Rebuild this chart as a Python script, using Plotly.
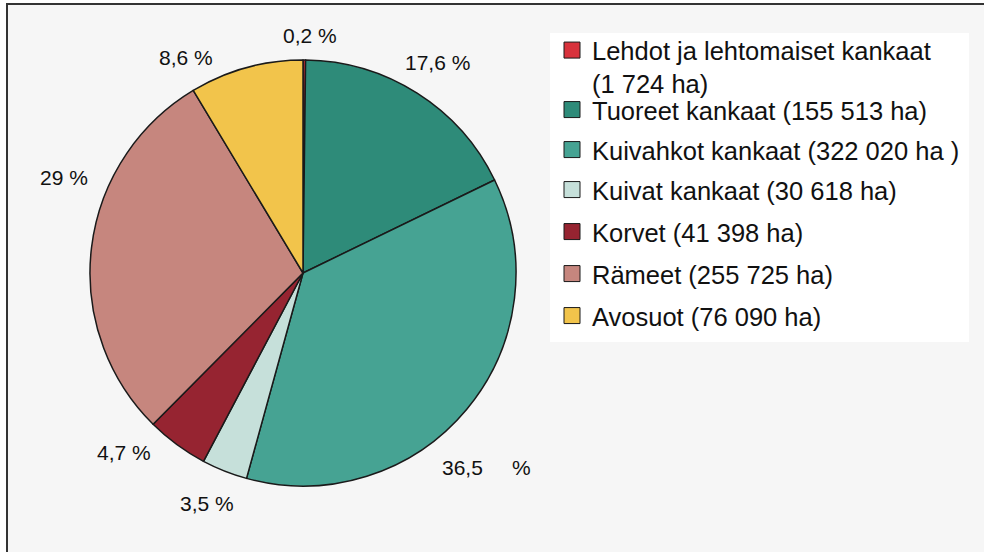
import plotly.graph_objects as go

# ---- data ----
categories = [
    "Lehdot ja lehtomaiset kankaat<br>(1 724 ha)",
    "Tuoreet kankaat (155 513 ha)",
    "Kuivahkot kankaat (322 020 ha )",
    "Kuivat kankaat (30 618 ha)",
    "Korvet (41 398 ha)",
    "Rämeet (255 725 ha)",
    "Avosuot (76 090 ha)",
]
areas_ha = [1724, 155513, 322020, 30618, 41398, 255725, 76090]
pct_labels = ["0,2 %", "17,6 %", "36,5\u00a0\u00a0\u00a0\u00a0\u00a0%", "3,5 %", "4,7 %", "29 %", "8,6 %"]

# ---- styling / layout ----
colors = ["#d8323c", "#2e8b79", "#46a393", "#c6e0da", "#962431", "#c6867e", "#f2c44b"]
W, H = 984, 552


def px(x):
    return x / W


def py(y):
    return 1 - y / H


pie_cx, pie_cy, pie_r = 303, 273, 213
label_xy_px = [(310, 36), (437, 62), (486, 467), (207, 504), (124, 452), (64, 177), (186, 57)]
legend_y_px = [67, 110, 150, 190, 232, 274, 316]
legend_x_px = 552

fig = go.Figure()
fig.add_trace(go.Pie(
    labels=categories,
    values=areas_ha,
    sort=False,
    direction="clockwise",
    rotation=0,
    marker=dict(colors=colors, line=dict(color="#1a1a1a", width=1.5)),
    textinfo="none",
    hoverinfo="label+percent",
    showlegend=False,
    domain=dict(
        x=[px(pie_cx - pie_r), px(pie_cx + pie_r)],
        y=[py(pie_cy + pie_r), py(pie_cy - pie_r)],
    ),
))

legend_font = dict(family="Liberation Sans, Arial, sans-serif", size=25.5, color="#111111")
layout_legends = {}
for i, (name, c) in enumerate(zip(categories, colors)):
    key = "legend" if i == 0 else f"legend{i + 1}"
    fig.add_trace(go.Scatter(
        x=[None], y=[None], mode="markers", name=name,
        marker=dict(symbol="square", size=16, color=c, line=dict(color="#1a1a1a", width=1)),
        legend=key, showlegend=True, hoverinfo="skip",
    ))
    layout_legends[key] = dict(
        x=px(legend_x_px), xanchor="left",
        y=py(legend_y_px[i]), yanchor="middle",
        bgcolor="rgba(0,0,0,0)", borderwidth=0,
        font=legend_font, valign="top",
        itemclick=False, itemdoubleclick=False,
    )

annotations = []
for txt, (lx, ly) in zip(pct_labels, label_xy_px):
    annotations.append(dict(
        x=px(lx), y=py(ly), xref="paper", yref="paper",
        text=txt, showarrow=False, xanchor="center", yanchor="middle",
        font=dict(family="Liberation Sans, Arial, sans-serif", size=21, color="#111111"),
    ))

shapes = [
    # chart frame (light grey area with dark top/left border)
    dict(type="rect", xref="paper", yref="paper",
         x0=px(7), x1=px(W + 20), y0=py(H + 20), y1=py(4),
         fillcolor="#f6f6f6", line=dict(color="#333333", width=2), layer="below"),
    # legend box
    dict(type="rect", xref="paper", yref="paper",
         x0=px(550), x1=px(969), y0=py(342), y1=py(33),
         fillcolor="#ffffff", line=dict(width=0), layer="below"),
]

fig.update_layout(
    width=W, height=H,
    margin=dict(l=0, r=0, t=0, b=0),
    paper_bgcolor="#ffffff",
    plot_bgcolor="rgba(0,0,0,0)",
    xaxis=dict(visible=False),
    yaxis=dict(visible=False),
    shapes=shapes,
    annotations=annotations,
    **layout_legends,
)

fig.write_html(
    "out.html",
    config={"displayModeBar": False},
    post_script="document.body.style.margin='0';document.body.style.overflow='hidden';",
)
